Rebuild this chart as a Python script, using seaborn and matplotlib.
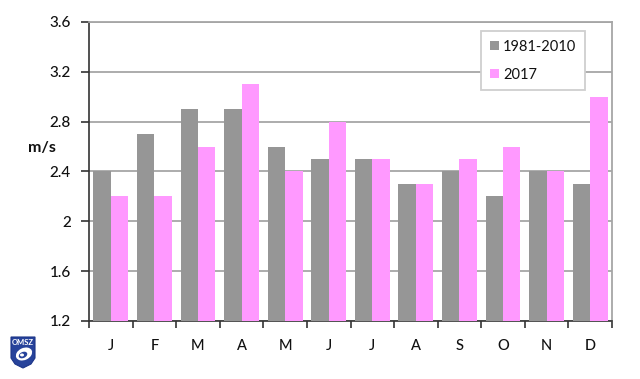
import numpy as np
import pandas as pd
import matplotlib
matplotlib.use("Agg")
import matplotlib.pyplot as plt
import seaborn as sns
from matplotlib.patches import Polygon, Ellipse

sns.set_theme(style="white")
plt.rcParams['font.family'] = ['Lato', 'DejaVu Sans']

months = ['J', 'F', 'M', 'A', 'M', 'J', 'J', 'A', 'S', 'O', 'N', 'D']
normal = [2.4, 2.7, 2.9, 2.9, 2.6, 2.5, 2.5, 2.3, 2.4, 2.2, 2.4, 2.3]
y2017 = [2.2, 2.2, 2.6, 3.1, 2.4, 2.8, 2.5, 2.3, 2.5, 2.6, 2.4, 3.0]
y_ticks = [1.2, 1.6, 2, 2.4, 2.8, 3.2, 3.6]
y_labels = ['1.2', '1.6', '2', '2.4', '2.8', '3.2', '3.6']
series_names = ['1981-2010', '2017']

df = pd.DataFrame({
    'pos': list(range(12)) * 2,
    'value': normal + y2017,
    'series': [series_names[0]] * 12 + [series_names[1]] * 12,
})

W, H = 640, 379
fig = plt.figure(figsize=(W / 100, H / 100), dpi=100, facecolor='white')
ax = fig.add_axes([89 / W, 1 - 321 / H, (612 - 89) / W, (321 - 22) / H])

sns.barplot(data=df, x='pos', y='value', hue='series', ax=ax, width=0.8, gap=0,
            palette=['#969696', '#ff99ff'], saturation=1, linewidth=0, zorder=3)

ax.set_xlim(-0.5, 11.5)
ax.set_ylim(1.2, 3.6)
ax.set_yticks(y_ticks)
ax.set_yticklabels(y_labels, fontsize=11, fontweight='medium', color='#111111')
ax.set_xticks(range(12))
ax.set_xticklabels(months, fontsize=10.5, fontweight='medium', color='#111111')
ax.set_xticks(np.arange(-0.5, 12), minor=True)
ax.tick_params(axis='x', which='major', length=0, pad=13)
ax.tick_params(axis='x', which='minor', length=5, width=1.2, color='#333333', bottom=True)
ax.tick_params(axis='y', length=6, width=1.2, color='#333333', left=True, pad=7)
ax.set_xlabel('')
ax.set_ylabel('')
ax.yaxis.grid(True, color='#a6a6a6', linewidth=1.3, zorder=0)
ax.set_axisbelow(True)

for side in ['left', 'bottom']:
    ax.spines[side].set_color('#333333')
    ax.spines[side].set_linewidth(1.2)
for side in ['top', 'right']:
    ax.spines[side].set_color('#a6a6a6')
    ax.spines[side].set_linewidth(1.3)

fig.text(42 / W, 1 - 148 / H, 'm/s', fontsize=11.5, fontweight='bold', color='#111111',
         ha='center', va='center')

handles, labels = ax.get_legend_handles_labels()
leg = ax.legend(handles, labels, loc='upper left', bbox_to_anchor=((481 - 89) / 523, 1 - (31 - 22) / 299),
                borderaxespad=0, fontsize=10.5, frameon=True, fancybox=False, edgecolor='#cfcfcf',
                facecolor='white', framealpha=1, handlelength=0.62, handleheight=0.62,
                handletextpad=0.3, labelspacing=0.95, borderpad=0.6)
leg.get_frame().set_linewidth(1.3)
for t in leg.get_texts():
    t.set_color('#111111')

# OMSZ logo
logo = fig.add_axes([10 / W, 1 - 369 / H, 26 / W, 33 / H])
logo.set_xlim(0, 26)
logo.set_ylim(33, 0)
logo.axis('off')
logo.add_patch(Polygon([(1, 1), (25, 1), (25, 22), (21, 28), (13, 32), (5, 28), (1, 22)],
                       closed=True, facecolor='#27439b', edgecolor='#1c3488', lw=0.8))
logo.text(13, 6.5, 'OMSZ', fontsize=5.5, fontweight='bold', color='white', ha='center', va='center')
logo.add_patch(Ellipse((14, 18), 17, 12, angle=-25, facecolor='white', edgecolor='none'))
logo.add_patch(Ellipse((13, 19), 9, 6, angle=-25, facecolor='#27439b', edgecolor='none'))
logo.add_patch(Ellipse((12, 19), 4, 3, facecolor='white', edgecolor='none'))

fig.savefig('out.png', dpi=100, facecolor='white')
